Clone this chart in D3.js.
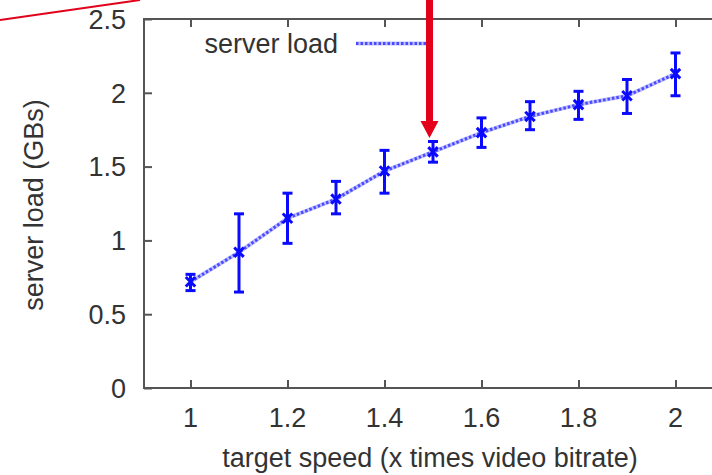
<!DOCTYPE html>
<html>
<head>
<meta charset="utf-8">
<script src="https://cdn.jsdelivr.net/npm/d3@7"></script>
<style>
  body { margin: 0; background: #fff; }
  text { font-family: "Liberation Sans", Arial, sans-serif; fill: #333; }
</style>
</head>
<body>
<div id="chart"></div>
<script>
// target speed (x times video bitrate)
const speeds = [1, 1.1, 1.2, 1.3, 1.4, 1.5, 1.6, 1.7, 1.8, 1.9, 2];
// server load in GBs, with error bar ends
const loads = [0.72, 0.92, 1.15, 1.28, 1.47, 1.60, 1.73, 1.84, 1.92, 1.98, 2.13];
const loadHigh = [0.77, 1.18, 1.32, 1.40, 1.61, 1.67, 1.83, 1.94, 2.01, 2.09, 2.27];
const loadLow = [0.66, 0.65, 0.98, 1.18, 1.32, 1.53, 1.63, 1.75, 1.82, 1.86, 1.98];

const xTicks = [1, 1.2, 1.4, 1.6, 1.8, 2];
const yTicks = [0, 0.5, 1, 1.5, 2, 2.5];

const width = 712, height = 475;
const fontSize = '27px';

const svg = d3.select('#chart').append('svg')
  .attr('width', width)
  .attr('height', height);

const xScale = d3.scaleLinear().domain([0.9, 2.1]).range([142, 724]);
const yScale = d3.scaleLinear().domain([0, 2.5]).range([388, 19]);

const data = speeds.map((s, i) => ({ x: s, y: loads[i], hi: loadHigh[i], lo: loadLow[i] }));

// frame
const frame = '#555';
svg.append('rect')
  .attr('x', xScale(0.9) + 2)
  .attr('y', yScale(2.5))
  .attr('width', xScale(2.1) - xScale(0.9))
  .attr('height', yScale(0) - yScale(2.5))
  .attr('fill', 'none')
  .attr('stroke', frame)
  .attr('stroke-width', 2);

// axes with inward ticks, labels drawn separately
const xAxis = d3.axisBottom(xScale).tickValues(xTicks).tickSizeInner(-8).tickSizeOuter(0).tickFormat('');
const xAxisTop = d3.axisTop(xScale).tickValues(xTicks).tickSizeInner(-8).tickSizeOuter(0).tickFormat('');
const yAxis = d3.axisLeft(yScale).tickValues(yTicks).tickSizeInner(-8).tickSizeOuter(0).tickFormat('');

svg.append('g').attr('transform', `translate(0,${yScale(0)})`).call(xAxis);
svg.append('g').attr('transform', `translate(0,${yScale(2.5)})`).call(xAxisTop);
svg.append('g').attr('transform', `translate(${xScale(0.9) + 2},0)`).call(yAxis);
svg.selectAll('.domain').remove();
svg.selectAll('.tick line').attr('stroke', frame).attr('stroke-width', 2);

svg.selectAll('.xlabel')
  .data(xTicks)
  .enter().append('text')
  .attr('x', d => xScale(d))
  .attr('y', 427)
  .attr('text-anchor', 'middle')
  .style('font-size', fontSize)
  .text(d => d);

svg.selectAll('.ylabel')
  .data(yTicks)
  .enter().append('text')
  .attr('x', 126)
  .attr('y', d => yScale(d))
  .attr('dy', '0.36em')
  .attr('text-anchor', 'end')
  .style('font-size', fontSize)
  .text(d => d);

// axis titles
svg.append('text')
  .attr('x', 430)
  .attr('y', 467)
  .attr('text-anchor', 'middle')
  .style('font-size', fontSize)
  .text('target speed (x times video bitrate)');

svg.append('text')
  .attr('transform', 'translate(43,205) rotate(-90)')
  .attr('text-anchor', 'middle')
  .style('font-size', fontSize)
  .text('server load (GBs)');

// dotted line
const line = d3.line().x(d => xScale(d.x)).y(d => yScale(d.y));
const drawDotted = (sel) => {
  sel.append('path').attr('fill', 'none').attr('stroke', '#c0c0ff').attr('stroke-width', 4);
  sel.append('path').attr('fill', 'none').attr('stroke', '#4a4aff').attr('stroke-width', 3)
    .attr('stroke-dasharray', '2.5,2');
};
const lineG = svg.append('g');
drawDotted(lineG);
lineG.selectAll('path').attr('d', line(data));

// error bars
const blue = '#0a0aff';
const bars = svg.append('g').attr('stroke', blue).attr('stroke-width', 3);
bars.selectAll('.err')
  .data(data)
  .enter().append('line')
  .attr('x1', d => xScale(d.x)).attr('x2', d => xScale(d.x))
  .attr('y1', d => yScale(d.hi)).attr('y2', d => yScale(d.lo));
bars.selectAll('.capHi')
  .data(data)
  .enter().append('line')
  .attr('x1', d => xScale(d.x) - 5).attr('x2', d => xScale(d.x) + 5)
  .attr('y1', d => yScale(d.hi)).attr('y2', d => yScale(d.hi));
bars.selectAll('.capLo')
  .data(data)
  .enter().append('line')
  .attr('x1', d => xScale(d.x) - 5).attr('x2', d => xScale(d.x) + 5)
  .attr('y1', d => yScale(d.lo)).attr('y2', d => yScale(d.lo));

// point markers
svg.append('g').selectAll('path')
  .data(data)
  .enter().append('path')
  .attr('transform', d => `translate(${xScale(d.x)},${yScale(d.y)})`)
  .attr('d', d3.symbol(d3.symbolX, 60)())
  .attr('fill', 'none')
  .attr('stroke', blue)
  .attr('stroke-width', 3);

// legend
svg.append('text')
  .attr('x', 338)
  .attr('y', 53)
  .attr('text-anchor', 'end')
  .style('font-size', fontSize)
  .text('server load');
const legendG = svg.append('g');
drawDotted(legendG);
legendG.selectAll('path').attr('d', 'M356,43.5H428');

// red annotations
const red = '#e2001a';
svg.append('line')
  .attr('x1', 0).attr('y1', 20).attr('x2', 140).attr('y2', 0)
  .attr('stroke', red).attr('stroke-width', 2);
svg.append('line')
  .attr('x1', 429.5).attr('y1', 0).attr('x2', 429.5).attr('y2', 122)
  .attr('stroke', red).attr('stroke-width', 7);
svg.append('path')
  .attr('d', 'M420.5,121L438.5,121L429.5,138Z')
  .attr('fill', red);
</script>
</body>
</html>
